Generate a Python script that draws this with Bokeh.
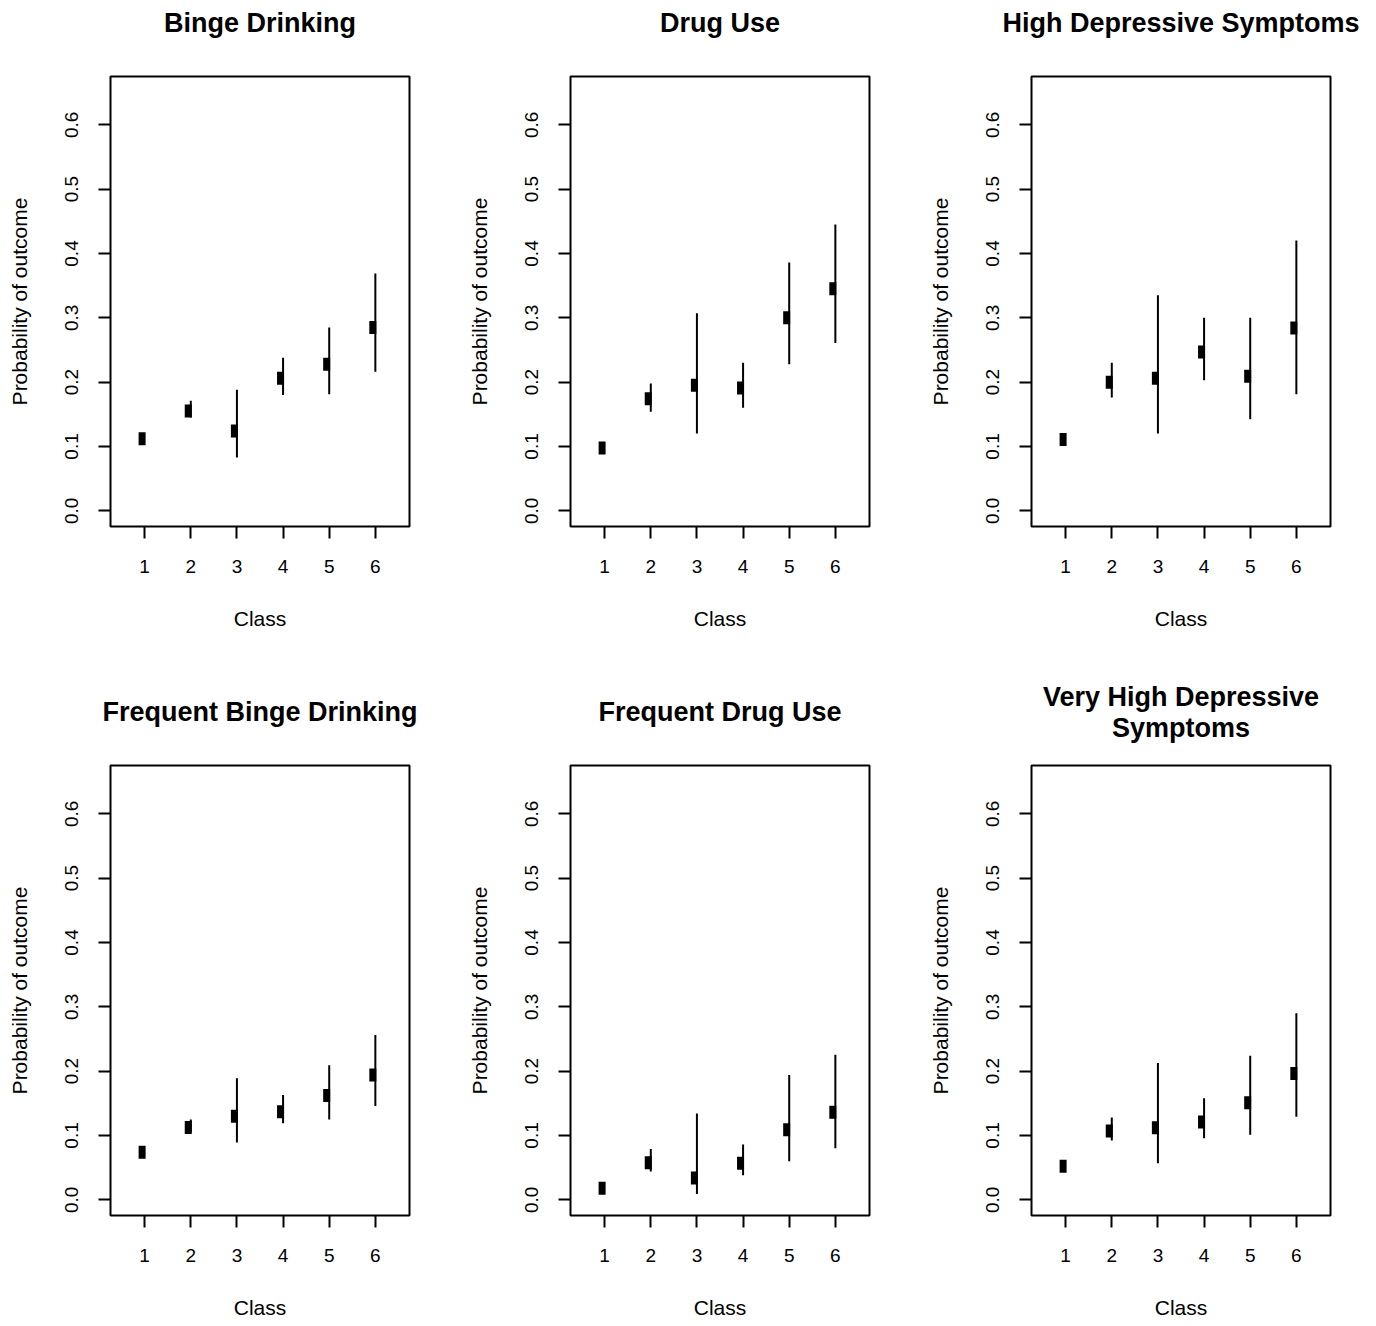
from bokeh.plotting import figure
from bokeh.layouts import row, column
from bokeh.models import Range1d, FixedTicker, ColumnDataSource
from bokeh.core.properties import value
from bokeh.transform import dodge
from bokeh.embed import file_html
from bokeh.resources import INLINE

# ---------------- data ----------------
classes = [1, 2, 3, 4, 5, 6]
ytick_values = [0.0, 0.1, 0.2, 0.3, 0.4, 0.5, 0.6]
ytick_labels = ["0.0", "0.1", "0.2", "0.3", "0.4", "0.5", "0.6"]

titles = ["Binge Drinking", "Drug Use", "High Depressive Symptoms",
          "Frequent Binge Drinking", "Frequent Drug Use",
          "Very High Depressive\nSymptoms"]

binge_est = [0.112, 0.155, 0.124, 0.206, 0.228, 0.285]
binge_lo = [0.112, 0.145, 0.083, 0.180, 0.181, 0.216]
binge_hi = [0.112, 0.171, 0.188, 0.238, 0.285, 0.369]

drug_est = [0.0975, 0.174, 0.195, 0.191, 0.300, 0.345]
drug_lo = [0.0975, 0.154, 0.120, 0.160, 0.228, 0.261]
drug_hi = [0.0975, 0.198, 0.307, 0.230, 0.386, 0.445]

dep_est = [0.111, 0.200, 0.206, 0.247, 0.209, 0.284]
dep_lo = [0.111, 0.176, 0.120, 0.203, 0.1425, 0.181]
dep_hi = [0.111, 0.230, 0.335, 0.300, 0.300, 0.420]

fbinge_est = [0.074, 0.1125, 0.130, 0.137, 0.162, 0.194]
fbinge_lo = [0.074, 0.105, 0.089, 0.119, 0.125, 0.146]
fbinge_hi = [0.074, 0.125, 0.189, 0.163, 0.209, 0.256]

fdrug_est = [0.018, 0.0575, 0.034, 0.057, 0.109, 0.136]
fdrug_lo = [0.018, 0.044, 0.009, 0.038, 0.060, 0.080]
fdrug_hi = [0.018, 0.079, 0.134, 0.086, 0.194, 0.2255]

vdep_est = [0.052, 0.107, 0.112, 0.121, 0.151, 0.1965]
vdep_lo = [0.052, 0.092, 0.057, 0.0955, 0.101, 0.129]
vdep_hi = [0.052, 0.128, 0.2125, 0.158, 0.224, 0.290]

series = [
    (binge_est, binge_lo, binge_hi),
    (drug_est, drug_lo, drug_hi),
    (dep_est, dep_lo, dep_hi),
    (fbinge_est, fbinge_lo, fbinge_hi),
    (fdrug_est, fdrug_lo, fdrug_hi),
    (vdep_est, vdep_lo, vdep_hi),
]

FONT = "Liberation Sans"
X0, X1 = 0.26, 6.74
Y0, Y1 = -0.0244, 0.6751
FW, FH = 299, 450
PPU = FW / (X1 - X0)          # pixels per x unit


def make_title(title, left, right, height):
    """A strip above a panel, x-aligned with the panel, holding its title."""
    w = left + FW + right
    t = figure(frame_width=w, frame_height=height,
               x_range=Range1d(X0 - left / PPU, X1 + right / PPU),
               y_range=Range1d(0, height),
               output_backend="svg", toolbar_location=None,
               x_axis_location=None, y_axis_location=None,
               min_border=0, background_fill_color="white",
               border_fill_color="white", outline_line_color=None)
    t.xgrid.visible = False
    t.ygrid.visible = False
    lines = title.split("\n")
    n = len(lines)
    ys = [51.5 + (n - 1) / 2 * 31 - i * 31 for i in range(n)]
    t.text(x=[(X0 + X1) / 2] * n, y=ys, text=lines,
           text_align="center", text_baseline="alphabetic",
           text_font=value(FONT), text_font_size="27px",
           text_font_style="bold", text_color="black")
    return t


def make_panel(est, lo, hi, left, right, bottom):
    p = figure(frame_width=FW, frame_height=FH,
               x_range=Range1d(X0, X1), y_range=Range1d(Y0, Y1),
               output_backend="svg", toolbar_location=None,
               min_border_left=left, min_border_right=right,
               min_border_top=2, min_border_bottom=bottom,
               background_fill_color="white", border_fill_color="white")

    p.outline_line_color = "black"
    p.outline_line_width = 2
    p.outline_line_alpha = 1.0
    p.xgrid.visible = False
    p.ygrid.visible = False

    p.xaxis.ticker = FixedTicker(ticks=classes)
    p.yaxis.ticker = FixedTicker(ticks=ytick_values)
    p.yaxis.major_label_overrides = {v: s for v, s in zip(ytick_values, ytick_labels)}
    p.xaxis.axis_label = "Class"
    p.yaxis.axis_label = "Probability of outcome"
    for ax in (p.xaxis, p.yaxis):
        ax.axis_line_color = None
        ax.major_tick_out = 12
        ax.major_tick_in = 0
        ax.major_tick_line_width = 2
        ax.major_tick_line_color = "black"
        ax.minor_tick_line_color = None
        ax.major_label_text_font = FONT
        ax.major_label_text_font_size = "19px"
        ax.major_label_text_color = "black"
        ax.axis_label_text_font = FONT
        ax.axis_label_text_font_size = "21px"
        ax.axis_label_text_font_style = "normal"
        ax.axis_label_text_color = "black"
    p.yaxis.major_label_orientation = "vertical"
    p.yaxis.major_label_standoff = 20
    p.yaxis.axis_label_standoff = 32
    p.xaxis.major_label_standoff = 21
    p.xaxis.axis_label_standoff = 31

    src = ColumnDataSource(dict(x=classes, est=est, lo=lo, hi=hi))
    p.segment(x0="x", y0="lo", x1="x", y1="hi", source=src,
              line_color="black", line_width=2)
    p.rect(x=dodge("x", -0.055, range=p.x_range), y="est", source=src,
           width=7, height=13, width_units="screen", height_units="screen",
           fill_color="black", line_color=None)
    return p


title_rows = [[], []]
panel_rows = [[], []]
for i, (t, (e, l, h)) in enumerate(zip(titles, series)):
    col = i % 3
    rw = i // 3
    left = 111 if col == 2 else 110
    right = 46 if col == 2 else 51
    if rw == 0:
        th, bottom = 74, 157
    else:
        th, bottom = 80, 111
    title_rows[rw].append(make_title(t, left, right, th))
    panel_rows[rw].append(make_panel(e, l, h, left, right, bottom))

layout = column(row(*title_rows[0]), row(*panel_rows[0]),
                row(*title_rows[1]), row(*panel_rows[1]))

open("out.html", "w").write(file_html(layout, INLINE))
